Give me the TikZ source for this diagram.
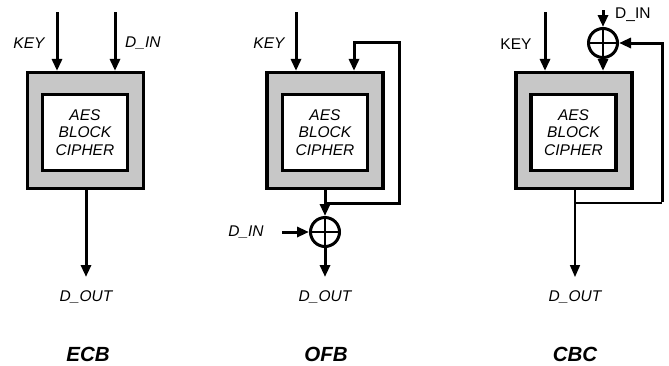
\documentclass[tikz,border=0pt]{standalone}
\usepackage{fontspec}
\setmainfont{Liberation Sans}
\usetikzlibrary{arrows.meta}
\definecolor{boxgray}{gray}{0.78}
\begin{document}
\begin{tikzpicture}[x=1pt,y=-1pt,
  arr/.style={line width=3pt,-{Triangle[length=12pt,width=10pt]}},
  thinarr/.style={line width=1.6pt,-{Triangle[length=12pt,width=10pt]}},
  outerbox/.style={draw,fill=boxgray,line width=3.2pt,minimum width=116pt,minimum height=116pt,inner sep=0pt},
  innerbox/.style={draw,fill=white,line width=3.2pt,minimum width=85pt,minimum height=76pt,inner sep=0pt,align=center,font=\fontsize{15.5}{17.5}\selectfont\itshape},
  lbl/.style={font=\fontsize{15.5}{16}\selectfont\itshape,inner sep=0pt},
  lblup/.style={font=\fontsize{15.5}{16}\selectfont,inner sep=0pt},
  title/.style={font=\fontsize{20.5}{22}\selectfont\bfseries\itshape,inner sep=0pt},
  xorc/.style={draw,circle,line width=3pt,minimum size=29pt,inner sep=0pt},
]
\useasboundingbox (0,0) rectangle (669,365);
% ---------- ECB ----------
\node[outerbox] (e) at (85.5,130.5) {};
\node[innerbox] (ei) at (85,132.5) {AES\\BLOCK\\CIPHER};
\coordinate (ekey) at (57,12);
\coordinate (edin) at (115,12);
\coordinate (eout) at (86,277);
\draw[arr] (ekey) -- (ekey |- e.north);
\draw[arr] (edin) -- (edin |- e.north);
\draw[arr] (e.south -| eout) -- (eout);
\node[lbl] (ekeyl) at (29,43) {KEY};
\node[lbl,anchor=west] (edinl) at (125,43) {D\_IN};
\node[lbl] (eoutl) at (86,297) {D\_OUT};
\node[title] (ecb) at (88,354) {ECB};
% ---------- OFB ----------
\node[outerbox] (o) at (325,130.5) {};
\node[innerbox] (oi) at (325,132.5) {AES\\BLOCK\\CIPHER};
\node[xorc] (ox) at (325,232) {};
\draw[line width=2.2pt] (ox.north) -- (ox.south) (ox.west) -- (ox.east);
\coordinate (okey) at (296,12);
\coordinate (ofb) at (325,203);
\coordinate (ofb1) at (399,203);
\coordinate (ofb2) at (399,42);
\coordinate (ofb3) at (354,42);
\coordinate (odin) at (282,232);
\coordinate (oout) at (325,277);
\draw[arr] (okey) -- (okey |- o.north);
\draw[arr] (o.south) -- (ox.north);
\draw[arr] (ofb) -- (ofb1) -- (ofb2) -- (ofb3) -- (ofb3 |- o.north);
\draw[arr] (odin) -- (ox.west);
\draw[arr] (ox.south) -- (oout);
\node[lbl] (okeyl) at (269,43) {KEY};
\node[lbl] (odinl) at (246,232) {D\_IN};
\node[lbl] (ooutl) at (325,297) {D\_OUT};
\node[title] (ofbt) at (326,354) {OFB};
% ---------- CBC ----------
\node[outerbox] (c) at (574,130.5) {};
\node[innerbox] (ci) at (573.5,132.5) {AES\\BLOCK\\CIPHER};
\node[xorc] (cx) at (603,43) {};
\draw[line width=2.2pt] (cx.north) -- (cx.south) (cx.west) -- (cx.east);
\coordinate (ckey) at (545,12);
\coordinate (cdin) at (603,10);
\coordinate (cfb) at (575,203);
\coordinate (cfb1) at (662,203);
\coordinate (cfb2) at (662,43);
\coordinate (cout) at (575,277);
\draw[arr] (ckey) -- (ckey |- c.north);
\draw[arr] (cdin) -- (cx.north);
\draw[arr] (cx.south) -- (cx.south |- c.north);
\draw[line width=2pt] (cfb) -- (cfb1);
\draw[arr] ([yshift=1pt]cfb1) -- (cfb2) -- (cx.east);
\draw[thinarr] (c.south -| cout) -- (cout);
\node[lblup] (ckeyl) at (516,44) {KEY};
\node[lblup,anchor=west] (cdinl) at (615,15) {D\_IN};
\node[lbl] (coutl) at (575,297) {D\_OUT};
\node[title] (cbct) at (575,354) {CBC};
\end{tikzpicture}
\end{document}
